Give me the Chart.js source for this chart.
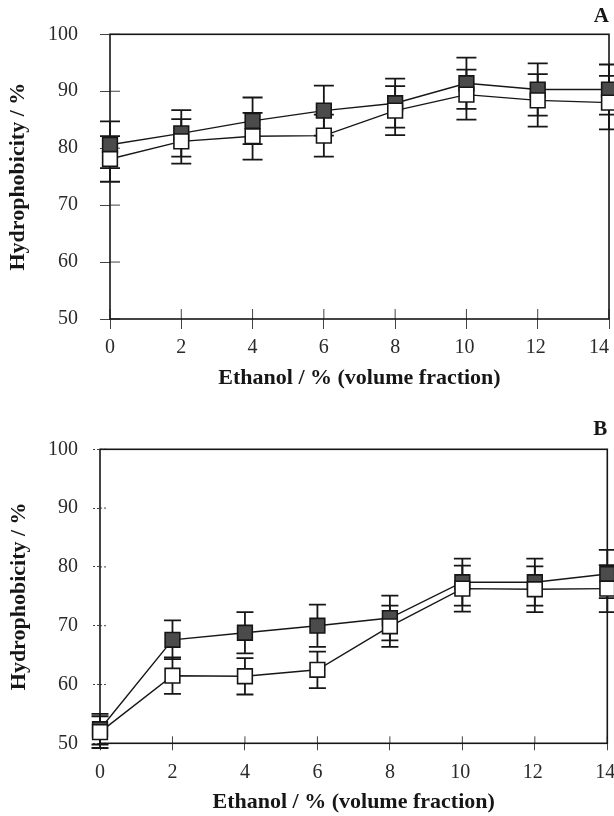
<!DOCTYPE html>
<html>
<head>
<meta charset="utf-8">
<script src="https://cdn.jsdelivr.net/npm/chart.js@4.4.0/dist/chart.umd.min.js"></script>
<style>
  html, body { margin: 0; padding: 0; background: #fff; overflow: hidden; }
  #boxA { position: absolute; left: 0; top: 0; }
  #boxB { position: absolute; left: 0; top: 396px; }
</style>
</head>
<body>
<div id="boxA"><canvas id="chartA" width="614" height="392"></canvas></div>
<div id="boxB"><canvas id="chartB" width="614" height="420"></canvas></div>
<script>
// Ethanol concentrations (x) and axis ticks
const ethanol = [0, 2, 4, 6, 8, 10, 12, 14];
const xTickLabels = ['0', '2', '4', '6', '8', '10', '12', '14'];
const yTicks = [50, 60, 70, 80, 90, 100];

// Panel A: filled squares / open squares, with +/- error
const aFilled = [80.6, 82.6, 84.8, 86.6, 87.9, 91.4, 90.3, 90.3];
const aFilledErr = [4.1, 4.1, 4.1, 4.4, 4.3, 4.5, 4.6, 4.4];
const aOpen = [78.1, 81.2, 82.1, 82.2, 86.6, 89.4, 88.4, 88.0];
const aOpenErr = [4.0, 3.9, 4.1, 3.7, 4.3, 4.4, 4.6, 4.7];

// Panel B
const bFilled = [52.4, 67.6, 68.8, 70.0, 71.3, 77.4, 77.4, 78.8];
const bFilledErr = [2.6, 3.3, 3.5, 3.6, 3.8, 4.0, 4.0, 4.1];
const bOpen = [51.9, 61.5, 61.4, 62.5, 69.9, 76.3, 76.2, 76.3];
const bOpenErr = [2.7, 3.1, 3.1, 3.1, 3.5, 3.9, 3.9, 4.0];

const SERIF = "'Liberation Serif', 'Times New Roman', serif";
const INK = '#161616';

function pts(values) {
    return values.map((v, i) => ({ x: ethanol[i], y: v }));
}

// frame, inward tick stubs and error bars, drawn under the squares
const framePlugin = {
    id: 'frame',
    beforeDatasetsDraw(chart, args, opts) {
        const { ctx, chartArea: a } = chart;
        const xs = chart.scales.x, ys = chart.scales.y;
        ctx.save();

        // tick stubs pointing into the plot
        ctx.strokeStyle = '#444';
        ctx.lineWidth = 1;
        ctx.setLineDash(opts.dash || []);
        ys.ticks.forEach(t => {
            const py = ys.getPixelForValue(t.value);
            ctx.beginPath();
            ctx.moveTo(a.left, py);
            ctx.lineTo(a.left + opts.tick, py);
            ctx.stroke();
        });
        ctx.setLineDash([]);
        xs.ticks.forEach(t => {
            const px = xs.getPixelForValue(t.value);
            ctx.beginPath();
            ctx.moveTo(px, a.bottom);
            ctx.lineTo(px, a.bottom - opts.tick);
            ctx.stroke();
        });

        // box round the plot
        ctx.strokeStyle = INK;
        ctx.lineWidth = 1.6;
        ctx.strokeRect(a.left, a.top, a.right - a.left, a.bottom - a.top);

        // error bars
        ctx.lineWidth = 1.8;
        chart.data.datasets.forEach(ds => {
            ds.data.forEach((p, i) => {
                const px = xs.getPixelForValue(p.x);
                const hi = ys.getPixelForValue(p.y + ds.errors[i]);
                const lo = ys.getPixelForValue(p.y - ds.errors[i]);
                ctx.beginPath();
                ctx.moveTo(px, hi);
                ctx.lineTo(px, lo);
                ctx.moveTo(px - opts.cap, hi);
                ctx.lineTo(px + opts.cap, hi);
                ctx.moveTo(px - opts.cap, lo);
                ctx.lineTo(px + opts.cap, lo);
                ctx.stroke();
            });
        });
        ctx.restore();
    }
};

function tickText(i, shiftLast) {
    const s = xTickLabels[i];
    if (shiftLast && i === xTickLabels.length - 1) return s + '\u2002\u2002';
    return s.length > 1 ? s + '\u2009' : s;
}

function buildChart(id, cfg) {
    return new Chart(document.getElementById(id), {
        type: 'line',
        data: {
            datasets: [
                {
                    label: 'open',
                    data: pts(cfg.open),
                    errors: cfg.openErr,
                    borderColor: INK,
                    borderWidth: 1.4,
                    pointStyle: 'rect',
                    pointRadius: 10.4,
                    pointBorderWidth: 1.6,
                    pointBorderColor: INK,
                    pointBackgroundColor: '#ffffff',
                    tension: 0,
                    clip: false
                },
                {
                    label: 'filled',
                    data: pts(cfg.filled),
                    errors: cfg.filledErr,
                    borderColor: INK,
                    borderWidth: 1.4,
                    pointStyle: 'rect',
                    pointRadius: 10.4,
                    pointBorderWidth: 1.6,
                    pointBorderColor: INK,
                    pointBackgroundColor: '#4b4b4b',
                    tension: 0,
                    clip: false
                }
            ]
        },
        options: {
            responsive: false,
            animation: false,
            layout: { autoPadding: false, padding: { left: 0, right: cfg.padRight, top: 0, bottom: 0 } },
            plugins: {
                legend: { display: false },
                tooltip: { enabled: false },
                title: {
                    display: true,
                    text: cfg.panel,
                    align: 'end',
                    color: INK,
                    font: { family: SERIF, size: 21, weight: 'bold' },
                    padding: { top: cfg.titleTop, bottom: cfg.titleBottom }
                },
                frame: { tick: cfg.tick, cap: cfg.cap, dash: cfg.dash }
            },
            scales: {
                x: {
                    type: 'linear',
                    min: 0,
                    max: 14,
                    afterBuildTicks: s => { s.ticks = ethanol.map(v => ({ value: v })); },
                    afterFit: s => { s.height = cfg.xHeight; s.paddingLeft = 0; s.paddingRight = 0; },
                    grid: { drawOnChartArea: false, tickLength: cfg.tick, color: '#444', lineWidth: 1 },
                    border: { display: false },
                    ticks: {
                        autoSkip: false,
                        maxRotation: 0,
                        padding: cfg.xPad,
                        color: '#2a2a2a',
                        font: { family: SERIF, size: 20 },
                        callback: (v, i) => tickText(i, cfg.shiftLast)
                    },
                    title: {
                        display: true,
                        text: 'Ethanol / % (volume fraction)',
                        color: INK,
                        font: { family: SERIF, size: 22, weight: 'bold' },
                        padding: { top: 0, bottom: 0 }
                    }
                },
                y: {
                    type: 'linear',
                    min: 50,
                    max: 100,
                    afterBuildTicks: s => { s.ticks = yTicks.map(v => ({ value: v })); },
                    afterFit: s => { s.width = cfg.yWidth; s.paddingTop = 0; s.paddingBottom = 0; },
                    grid: { drawOnChartArea: false, tickLength: cfg.tick, color: '#444', lineWidth: 1, tickBorderDash: cfg.dash || [] },
                    border: { display: false },
                    ticks: {
                        padding: cfg.yPad,
                        color: '#2a2a2a',
                        font: { family: SERIF, size: 20 }
                    },
                    title: {
                        display: true,
                        text: 'Hydrophobicity / %',
                        color: INK,
                        font: { family: SERIF, size: 22, weight: 'bold' },
                        padding: { top: cfg.yTitlePad, bottom: 0 }
                    }
                }
            }
        },
        plugins: [framePlugin]
    });
}

buildChart('chartA', {
    panel: 'A',
    filled: aFilled, filledErr: aFilledErr,
    open: aOpen, openErr: aOpenErr,
    padRight: 5, titleTop: 4.4, titleBottom: 4.7,
    yWidth: 110, xHeight: 73,
    tick: 10, cap: 10, xPad: 7, yPad: 22, yTitlePad: 5,
    shiftLast: true
});

buildChart('chartB', {
    panel: 'B',
    filled: bFilled, filledErr: bFilledErr,
    open: bOpen, openErr: bOpenErr,
    padRight: 6.7, titleTop: 21.4, titleBottom: 6.7,
    yWidth: 100, xHeight: 72.7,
    tick: 7, cap: 8.5, xPad: 10.7, yPad: 15, yTitlePad: 6,
    dash: [2, 2],
    shiftLast: false
});
</script>
</body>
</html>
